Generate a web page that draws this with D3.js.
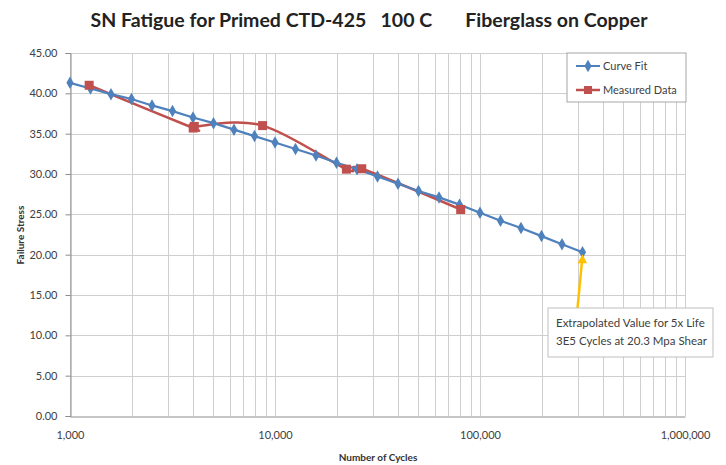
<!DOCTYPE html>
<html>
<head>
<meta charset="utf-8">
<script src="https://cdn.jsdelivr.net/npm/d3@7"></script>
<style>
  body { margin: 0; background: #fff; }
  svg { display: block; font-family: Lato, "Open Sans", sans-serif; }
</style>
</head>
<body>
<div id="wrap"></div>
<script>
// curve fit (log spaced cycles) and measured data
const fitCycles = [1000, 1259, 1585, 1995, 2512, 3162, 3981, 5012, 6310, 7943,
  10000, 12589, 15849, 19953, 25119, 31623, 39811, 50119, 63096, 79433,
  100000, 125893, 158489, 199526, 251189, 316228];
const fitStress = [41.3, 40.6, 39.9, 39.3, 38.5, 37.8, 37.0, 36.3, 35.5, 34.7,
  33.9, 33.1, 32.3, 31.4, 30.6, 29.7, 28.8, 27.9, 27.1, 26.2,
  25.2, 24.2, 23.3, 22.3, 21.3, 20.3];
const measCycles = [1240, 3990, 4040, 8700, 22300, 26500, 80500];
const measStress = [41.0, 35.7, 35.9, 36.0, 30.6, 30.65, 25.6];
const yTicks = [0, 5, 10, 15, 20, 25, 30, 35, 40, 45];
const xTicks = [1000, 10000, 100000, 1000000];
const seriesNames = ["Curve Fit", "Measured Data"];
const noteLines = ["Extrapolated Value for 5x Life", "3E5 Cycles at 20.3 Mpa Shear"];

const width = 726;
const height = 465;
const plot = { left: 70, right: 685, top: 53, bottom: 416 };
const blue = "#4F81BD";
const red = "#C0504D";

let svg = d3.select("#wrap")
  .append("svg")
  .attr("width", width)
  .attr("height", height);

let xScale = d3.scaleLog().domain([1000, 1000000]).range([plot.left, plot.right]);
let yScale = d3.scaleLinear().domain([0, 45]).range([plot.bottom, plot.top]);

// 网格线
const gridG = svg.append("g").attr("stroke", "#CFCFCF").attr("stroke-width", 1);
gridG.selectAll("line.v")
  .data(xScale.ticks())
  .enter().append("line")
  .attr("x1", d => Math.round(xScale(d)) + 0.5)
  .attr("x2", d => Math.round(xScale(d)) + 0.5)
  .attr("y1", plot.top)
  .attr("y2", plot.bottom);
gridG.selectAll("line.h")
  .data(yTicks.slice(1))
  .enter().append("line")
  .attr("x1", plot.left)
  .attr("x2", plot.right)
  .attr("y1", d => Math.round(yScale(d)) + 0.5)
  .attr("y2", d => Math.round(yScale(d)) + 0.5);

// 坐标轴
const yAxis = d3.axisLeft(yScale).tickValues(yTicks).tickFormat(d3.format(".2f")).tickSize(5).tickPadding(8);
const gy = svg.append("g").attr("transform", `translate(${plot.left + 0.5},0)`).call(yAxis);
const xAxis = d3.axisBottom(xScale).tickValues(xTicks).tickFormat(d3.format(",")).tickSize(0).tickPadding(15);
const gx = svg.append("g").attr("transform", `translate(0,${plot.bottom + 0.5})`).call(xAxis);
[gx, gy].forEach(g => {
  g.select(".domain").attr("stroke", "#8C8C8C");
  g.selectAll(".tick line").attr("stroke", "#8C8C8C");
  g.selectAll("text").attr("fill", "#404040").style("font-size", "11px").style("font-family", "Lato, sans-serif");
});

// 曲线
const fitData = fitCycles.map((c, i) => [c, fitStress[i]]);
const measData = measCycles.map((c, i) => [c, measStress[i]]);
const lineGen = d3.line().x(d => xScale(d[0])).y(d => yScale(d[1]));

svg.append("path")
  .datum(measData)
  .attr("fill", "none")
  .attr("stroke", red)
  .attr("stroke-width", 2.5)
  .attr("d", lineGen.curve(d3.curveCardinal.tension(0)));

svg.append("path")
  .datum(fitData)
  .attr("fill", "none")
  .attr("stroke", blue)
  .attr("stroke-width", 2.2)
  .attr("d", lineGen.curve(d3.curveLinear));

const diamond = d3.symbol().type(d3.symbolDiamond).size(45);
svg.append("g").selectAll("path")
  .data(fitData)
  .enter().append("path")
  .attr("d", diamond)
  .attr("fill", blue)
  .attr("transform", d => `translate(${xScale(d[0])},${yScale(d[1])})`);

svg.append("g").selectAll("rect")
  .data(measData)
  .enter().append("rect")
  .attr("fill", red)
  .attr("x", d => xScale(d[0]) - 4.5)
  .attr("y", d => yScale(d[1]) - 4.5)
  .attr("width", 9)
  .attr("height", 9);

// 图例
const legend = svg.append("g").attr("transform", "translate(567,53)");
legend.append("rect")
  .attr("width", 119).attr("height", 49)
  .attr("fill", "#fff").attr("stroke", "#A6A6A6");
seriesNames.forEach((name, i) => {
  const ly = 13 + i * 24;
  const col = i === 0 ? blue : red;
  legend.append("line")
    .attr("x1", 9).attr("x2", 33).attr("y1", ly).attr("y2", ly)
    .attr("stroke", col).attr("stroke-width", i === 0 ? 2 : 2.5);
  if (i === 0) {
    legend.append("path").attr("d", diamond).attr("fill", col).attr("transform", `translate(21,${ly})`);
  } else {
    legend.append("rect").attr("x", 17).attr("y", ly - 4).attr("width", 8).attr("height", 8).attr("fill", col);
  }
  legend.append("text")
    .attr("x", 36).attr("y", ly + 4)
    .attr("fill", "#404040")
    .style("font-size", "11px")
    .text(name);
});

// 注释与箭头
const last = fitData[fitData.length - 1];
const ax = xScale(last[0]);
const ay = yScale(last[1]);
svg.append("line")
  .attr("x1", ax - 5).attr("y1", 308)
  .attr("x2", ax - 0.5).attr("y2", ay + 9)
  .attr("stroke", "#FFC000").attr("stroke-width", 2.5);
svg.append("path")
  .attr("d", `M${ax},${ay + 2} L${ax - 5},${ay + 11} L${ax + 4.5},${ay + 11} Z`)
  .attr("fill", "#FFC000");

const note = svg.append("g").attr("transform", "translate(548,308)");
note.append("rect")
  .attr("width", 165).attr("height", 49)
  .attr("fill", "#fff").attr("stroke", "#BFBFBF");
noteLines.forEach((t, i) => {
  note.append("text")
    .attr("x", 8).attr("y", 19 + i * 18)
    .attr("fill", "#404040")
    .style("font-size", "11.5px")
    .text(t);
});

// 标题
svg.append("text")
  .attr("x", 369).attr("y", 27)
  .attr("text-anchor", "middle")
  .attr("fill", "#222")
  .style("font-size", "19.5px")
  .style("font-weight", "bold")
  .style("white-space", "pre")
  .attr("xml:space", "preserve")
  .text("SN Fatigue for Primed CTD-425   100 C       Fiberglass on Copper");

svg.append("text")
  .attr("x", 378).attr("y", 461)
  .attr("text-anchor", "middle")
  .attr("fill", "#333")
  .style("font-size", "10px")
  .style("font-weight", "bold")
  .text("Number of Cycles");

svg.append("text")
  .attr("transform", "translate(24,235) rotate(-90)")
  .attr("text-anchor", "middle")
  .attr("fill", "#333")
  .style("font-size", "10px")
  .style("font-weight", "bold")
  .text("Failure Stress");
</script>
</body>
</html>
